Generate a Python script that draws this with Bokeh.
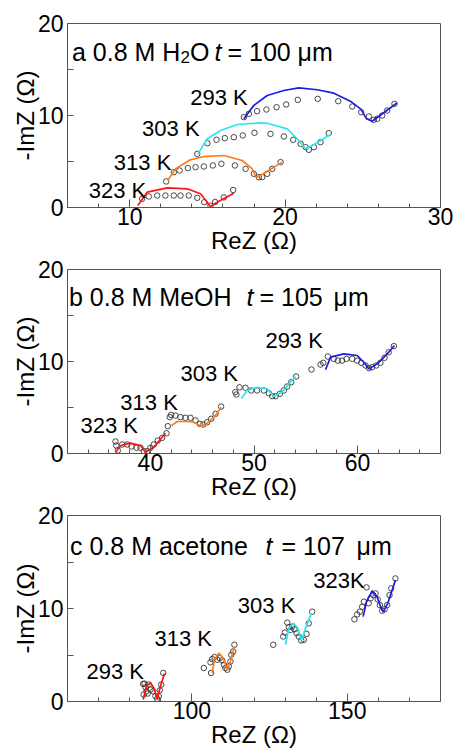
import numpy as np
from bokeh.plotting import figure
from bokeh.models import FixedTicker
from bokeh.layouts import column
from bokeh.core.properties import value
from bokeh.embed import file_html
from bokeh.resources import INLINE

# ---------------- data: panel a (H2O) ----------------
A293_RE = [17.35, 17.67, 18.2, 18.8, 19.45, 20.07, 20.82, 22.1, 23.42, 24.32, 24.9, 25.39, 25.71, 25.93, 26.25, 26.57, 27.04]
A293_IM = [9.82, 10.18, 10.47, 10.65, 10.9, 11.2, 11.7, 11.81, 11.56, 10.98, 10.36, 9.89, 9.53, 9.64, 10.0, 10.54, 11.27]
A293_FIT_RE = [17.35, 17.99, 18.85, 19.92, 20.88, 22.07, 23.14, 24.2, 24.86, 25.24, 25.6, 27.2]
A293_FIT_IM = [9.64, 11.1, 12.17, 12.72, 13.0, 12.8, 12.43, 11.56, 10.72, 9.64, 9.38, 11.36]

A303_RE = [14.35, 15.0, 15.59, 16.12, 16.7, 17.28, 18.03, 19.06, 19.92, 20.52, 21.0, 21.32, 21.53, 21.85, 22.28, 22.81]
A303_IM = [5.83, 6.99, 7.36, 7.54, 7.64, 7.83, 8.12, 8.0, 7.72, 7.36, 6.92, 6.56, 6.27, 6.56, 7.1, 8.08]
A303_FIT_RE = [14.39, 14.99, 15.85, 16.92, 18.42, 18.85, 20.14, 20.88, 21.32, 21.75, 22.93]
A303_FIT_IM = [5.83, 7.47, 8.37, 9.02, 9.2, 9.16, 8.55, 7.28, 6.38, 6.74, 7.93]

A313_RE = [12.35, 12.84, 13.21, 13.74, 14.24, 14.77, 15.35, 15.9, 16.77, 17.46, 17.99, 18.31, 18.53, 18.85, 19.17, 19.71]
A313_IM = [2.83, 3.84, 4.02, 4.28, 4.38, 4.46, 4.57, 4.75, 4.57, 4.2, 3.66, 3.3, 3.3, 3.66, 4.2, 4.93]
A313_FIT_RE = [12.45, 12.95, 13.9, 14.77, 16.06, 17.24, 17.89, 18.15, 18.6, 19.81]
A313_FIT_IM = [2.93, 4.2, 5.18, 5.54, 5.65, 5.11, 4.2, 3.25, 3.66, 4.93]

A323_RE = [10.8, 11.23, 11.77, 12.3, 12.84, 13.27, 13.8, 14.35, 14.8, 15.2, 15.5, 16.06, 16.66]
A323_IM = [0.95, 1.2, 1.3, 1.3, 1.3, 1.3, 1.3, 1.05, 0.58, 0.2, 0.6, 1.1, 1.9]
A323_FIT_RE = [10.52, 11.13, 12.42, 13.7, 14.56, 15.2, 15.63, 16.7]
A323_FIT_IM = [0.22, 1.67, 2.14, 2.03, 1.49, 0.11, 0.58, 1.56]

# ---------------- data: panel b (MeOH) ----------------
B293_RE = [55.55, 56.42, 56.68, 57.13, 57.7, 58.09, 58.5, 58.93, 59.48, 59.96, 60.35, 60.76, 61.09, 61.4, 61.8, 62.2, 62.6, 63.0, 63.5]
B293_IM = [9.13, 9.67, 9.86, 10.54, 10.29, 10.1, 10.1, 10.29, 10.29, 10.1, 9.86, 9.57, 9.28, 9.38, 9.57, 9.86, 10.4, 11.0, 11.67]
B293_FIT_RE = [56.9, 57.39, 58.67, 59.96, 60.6, 61.09, 61.9, 62.86, 63.56]
B293_FIT_IM = [9.1, 10.47, 10.83, 10.65, 9.92, 9.2, 9.75, 10.83, 11.74]

B303_RE = [48.2, 48.3, 48.6, 49.18, 49.73, 50.3, 50.95, 51.43, 51.76, 52.08, 52.5, 52.88, 53.2, 53.6, 54.07]
B303_IM = [6.67, 6.41, 7.2, 7.14, 6.85, 6.85, 6.85, 6.56, 6.23, 6.23, 6.49, 6.85, 7.28, 7.75, 8.37]
B303_FIT_RE = [48.77, 49.35, 50.3, 51.28, 51.9, 52.7, 54.0]
B303_FIT_IM = [5.94, 6.85, 7.2, 7.03, 6.23, 6.67, 8.37]

B313_RE = [41.68, 41.87, 42.0, 42.42, 42.9, 43.39, 43.87, 44.36, 44.77, 45.1, 45.48, 45.87, 46.29, 46.83]
B313_IM = [2.97, 3.95, 4.2, 4.13, 3.95, 3.88, 3.88, 3.59, 3.22, 3.15, 3.4, 3.77, 4.31, 5.1]
B313_FIT_RE = [42.04, 42.6, 43.55, 44.2, 44.9, 45.48, 46.2, 46.83]
B313_FIT_IM = [3.04, 3.48, 3.48, 3.4, 2.97, 3.3, 4.0, 5.03]

B323_RE = [36.63, 36.7, 36.86, 37.28, 37.76, 38.18, 38.66, 39.05, 39.37, 39.7, 40.0, 40.33, 40.72, 41.14, 41.56]
B323_IM = [1.3, 0.87, 0.33, 0.98, 0.98, 0.76, 0.62, 0.62, 0.25, 0.25, 0.62, 0.98, 1.41, 1.7, 2.2]
B323_FIT_RE = [36.63, 37.2, 38.08, 39.05, 39.53, 40.33, 41.46]
B323_FIT_IM = [0.14, 0.9, 1.12, 0.87, 0.14, 0.69, 2.2]

# ---------------- data: panel c (acetone) ----------------
C293_RE = [84.35, 84.5, 84.8, 85.1, 85.42, 85.8, 86.16, 86.7, 87.57, 88.3, 88.86, 89.38, 89.7, 90.15, 90.8]
C293_IM = [1.89, 0.75, 1.92, 1.53, 1.1, 0.86, 1.82, 1.28, 1.1, 0.57, 0.28, 0.57, 1.21, 1.82, 3.07]
C293_FIT_RE = [84.35, 85.4, 86.7, 87.77, 88.86, 89.9, 91.2]
C293_FIT_IM = [0.21, 1.64, 2.0, 1.46, 0.21, 1.64, 3.0]

C313_RE = [103.85, 106.2, 106.0, 106.55, 107.3, 108.2, 109.0, 109.8, 110.3, 110.8, 111.4, 111.9, 112.4, 112.7, 113.3, 113.7]
C313_IM = [3.6, 3.07, 4.21, 4.56, 4.78, 4.49, 4.67, 4.42, 3.96, 3.6, 3.42, 3.78, 4.31, 5.03, 5.38, 6.1]
C313_FIT_RE = [106.55, 107.3, 108.7, 110.1, 111.4, 112.4, 113.7]
C313_FIT_IM = [3.07, 4.49, 5.2, 4.67, 3.42, 4.31, 5.92]

C303_RE = [126.2, 129.4, 129.9, 130.7, 131.2, 131.75, 132.3, 133.0, 133.7, 134.4, 135.2, 136.0, 136.9, 137.6, 138.7]
C303_IM = [6.1, 6.99, 7.41, 8.48, 7.99, 7.7, 8.06, 7.77, 7.34, 6.99, 6.56, 6.63, 7.27, 8.41, 9.66]
C303_FIT_RE = [130.1, 131.2, 132.8, 134.1, 135.2, 136.6, 138.4]
C303_FIT_IM = [6.1, 7.88, 8.41, 7.88, 6.56, 7.88, 9.48]

C323_RE = [152.3, 153.2, 154.05, 154.8, 155.35, 156.2, 156.9, 157.5, 158.35, 159.1, 159.8, 160.5, 161.25, 162.0, 162.85, 163.6, 164.15, 165.5]
C323_IM = [8.84, 9.37, 9.66, 10.19, 10.73, 12.27, 10.56, 11.09, 11.44, 11.62, 10.98, 10.37, 9.76, 9.91, 10.37, 11.44, 12.16, 13.23]
C323_FIT_RE = [155.1, 156.2, 158.0, 159.6, 160.9, 161.6, 163.05, 165.5]
C323_FIT_IM = [9.12, 10.73, 11.9, 11.26, 10.02, 9.66, 10.56, 13.05]

# ---------------- axes / labels ----------------
A_XTICKS = [10, 20, 30]
B_XTICKS = [40, 50, 60]
C_XTICKS = [100, 150]
Y_TICKS = [0, 10, 20]
Y_MINOR = [5, 15]
TEMPS_A = ["293 K", "303 K", "313 K", "323 K"]
TEMPS_B = ["293 K", "303 K", "313 K", "323 K"]
TEMPS_C = ["293 K", "313 K", "303 K", "323K"]

RED, ORANGE, CYAN, BLUE = "#ff1414", "#ff7a18", "#2ee6ee", "#1c1ce6"
FONT = value("Liberation Sans")


def panel(xr, xticks, xminor, series, labels, lab_xy, title_parts, top, fh):
    p = figure(frame_width=373, frame_height=fh, x_range=xr, y_range=(0, 20),
               output_backend="svg", toolbar_location=None,
               min_border_left=67, min_border_right=14, min_border_top=top,
               min_border_bottom=49)
    p.xgrid.visible = False
    p.ygrid.visible = False
    p.outline_line_color = "#555555"
    p.outline_line_width = 1
    p.background_fill_color = "white"
    p.border_fill_color = "white"
    p.xaxis.ticker = FixedTicker(ticks=xticks, minor_ticks=xminor)
    p.yaxis.ticker = FixedTicker(ticks=Y_TICKS, minor_ticks=Y_MINOR)
    for ax in (p.xaxis[0], p.yaxis[0]):
        ax.axis_line_color = "#555555"
        ax.major_tick_line_color = "#555555"
        ax.minor_tick_line_color = "#555555"
        ax.major_tick_out = 0
        ax.minor_tick_out = 0
        ax.major_label_text_font = "Liberation Sans"
        ax.major_label_text_font_size = "23px"
        ax.major_label_text_color = "black"
        ax.axis_label_text_font = "Liberation Sans"
        ax.axis_label_text_font_size = "24px"
        ax.axis_label_text_font_style = "normal"
        ax.axis_label_text_color = "black"
    p.xaxis.major_tick_in = 8
    p.xaxis.minor_tick_in = 4
    p.yaxis.major_tick_in = 6
    p.yaxis.minor_tick_in = 6
    p.xaxis.major_label_standoff = 0
    p.yaxis.major_label_standoff = 4
    p.xaxis.axis_label_standoff = -1
    p.yaxis.axis_label_standoff = -4
    p.xaxis.axis_label = "ReZ (Ω)"
    p.yaxis.axis_label = "-ImZ (Ω)"

    for (re, im, fre, fim, col) in series:
        p.scatter(re, im, marker="circle", size=5.5, fill_color=None,
                  line_color="#333333", line_width=0.9)
        p.line(fre, fim, line_color=col, line_width=1.7)

    p.text(x=[xy[0] for xy in lab_xy], y=[xy[1] for xy in lab_xy], text=labels,
           text_font=FONT, text_font_size="22px", text_baseline="middle",
           text_align="left", text_color="black")

    for (tx, ty, txt, size, style) in title_parts:
        p.text(x=[tx], y=[ty], text=[txt], text_font=FONT, text_font_size=size,
               text_font_style=style, text_baseline="alphabetic",
               text_align="left", text_color="black")
    return p


def ax_a(px):
    return 6 + (px - 67) / 15.54


def ax_b(px):
    return 32 + (px - 67) / 10.36


def ax_c(px):
    return 60 + (px - 67) / 3.108


TS = "25px"
pa = panel((6, 30), A_XTICKS, list(np.arange(8, 30, 2)),
           [(A293_RE, A293_IM, A293_FIT_RE, A293_FIT_IM, BLUE),
            (A303_RE, A303_IM, A303_FIT_RE, A303_FIT_IM, CYAN),
            (A313_RE, A313_IM, A313_FIT_RE, A313_FIT_IM, ORANGE),
            (A323_RE, A323_IM, A323_FIT_RE, A323_FIT_IM, RED)],
           TEMPS_A, [(13.9, 11.96), (10.8, 8.55), (8.98, 4.93), (7.37, 1.85)],
           [(ax_a(71.5), 16.88, "a 0.8 M H", TS, "normal"),
            (ax_a(180), 16.33, "2", "17px", "normal"),
            (ax_a(189.5), 16.88, "O", TS, "normal"),
            (ax_a(214), 16.88, "t", TS, "italic"),
            (ax_a(227), 16.88, "= 100", TS, "normal"),
            (ax_a(297), 16.88, "μm", TS, "normal")], 23, 184)

pb = panel((32, 68), B_XTICKS, list(np.arange(34, 68, 2)),
           [(B293_RE, B293_IM, B293_FIT_RE, B293_FIT_IM, BLUE),
            (B303_RE, B303_IM, B303_FIT_RE, B303_FIT_IM, CYAN),
            (B313_RE, B313_IM, B313_FIT_RE, B313_FIT_IM, ORANGE),
            (B323_RE, B323_IM, B323_FIT_RE, B323_FIT_IM, RED)],
           TEMPS_B, [(51.1, 12.28), (42.9, 8.66), (37.1, 5.58), (33.25, 3.04)],
           [(ax_b(68.5), 16.99, "b 0.8 M MeOH", TS, "normal"),
            (ax_b(246), 16.99, "t", TS, "italic"),
            (ax_b(259), 16.99, "= 105", TS, "normal"),
            (ax_b(333), 16.99, "μm", TS, "normal")], 13, 184)

pc = panel((60, 180), C_XTICKS, list(np.arange(70, 180, 10)),
           [(C293_RE, C293_IM, C293_FIT_RE, C293_FIT_IM, RED),
            (C313_RE, C313_IM, C313_FIT_RE, C313_FIT_IM, ORANGE),
            (C303_RE, C303_IM, C303_FIT_RE, C303_FIT_IM, CYAN),
            (C323_RE, C323_IM, C323_FIT_RE, C323_FIT_IM, BLUE)],
           TEMPS_C, [(66.1, 3.24), (88.0, 6.81), (114.8, 10.37), (139.05, 13.05)],
           [(ax_c(69.5), 16.77, "c 0.8 M acetone", TS, "normal"),
            (ax_c(265), 16.77, "t", TS, "italic"),
            (ax_c(281), 16.77, "= 107", TS, "normal"),
            (ax_c(356), 16.77, "μm", TS, "normal")], 13, 186)

layout = column(pa, pb, pc, spacing=0)
open("out.html", "w").write(file_html(layout, INLINE))
